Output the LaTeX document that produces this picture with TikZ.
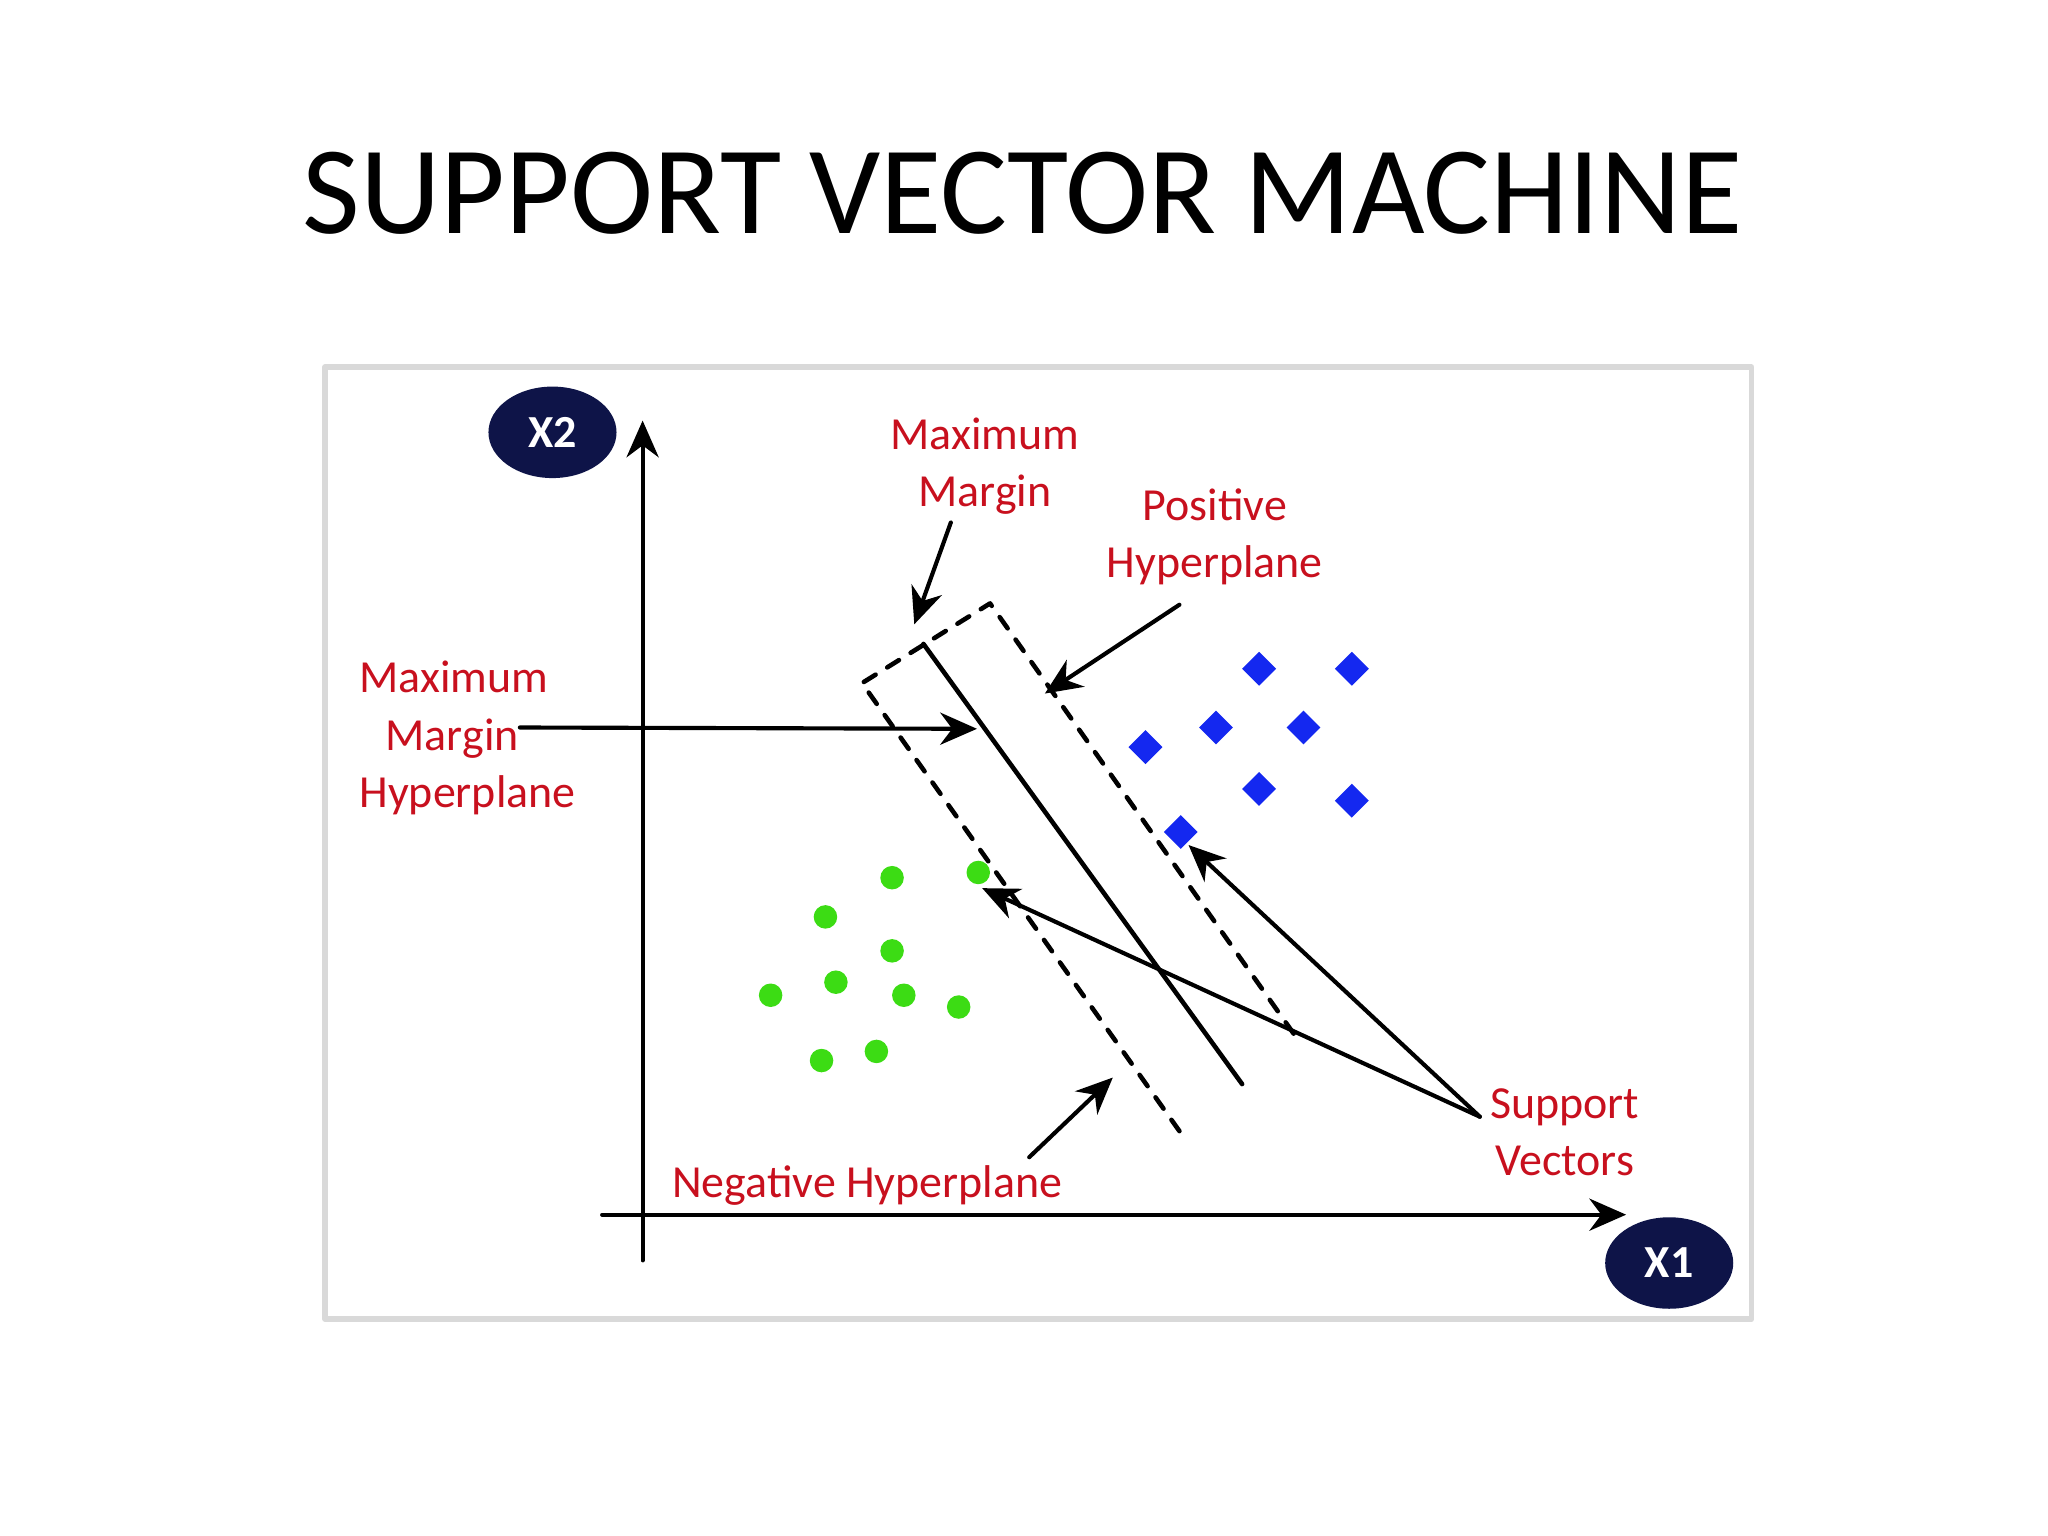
\documentclass[tikz,border=0pt]{standalone}
\usepackage{fontspec}
\setmainfont{Carlito}
\usetikzlibrary{arrows.meta, shapes.geometric}
\definecolor{svmred}{RGB}{200,16,30}
\definecolor{svmnavy}{RGB}{14,20,72}
\definecolor{svmblue}{RGB}{20,40,240}
\definecolor{svmgreen}{RGB}{60,220,20}
\tikzset{
  lbl/.style={text=svmred, font=\fontsize{10}{12.5}\selectfont, align=center},
  axislbl/.style={ellipse, fill=svmnavy, text=white, minimum width=0.98cm, minimum height=0.7cm, inner sep=0pt, font=\bfseries\fontsize{10}{12}\selectfont},
  pointer/.style={-{Stealth[length=8pt,width=7pt]}, line width=0.9pt},
}
\begin{document}
\begin{tikzpicture}[x=0.01cm, y=-0.01cm, line cap=round, line join=round]
  \useasboundingbox (0,0) rectangle (1568,1176);

  \node (title) at (783,148) {\fontsize{27.3}{32}\selectfont SUPPORT VECTOR MACHINE};
  \draw[black!15, line width=1.2pt] (249,281) rectangle (1341,1010);

  % axes
  \draw[pointer] (492,965) -- (492,322);
  \draw[pointer] (461,930) -- (1245,930);
  \node[axislbl] (xtwo) at (423,331) {X2};
  \node[axislbl] (xone) at (1278,967) {X1};

  % hyperplanes
  \draw[line width=1pt] (707,493) -- (951,830);
  \draw[dashed, line width=1pt] (903,866) -- (660,523) -- (758,462) -- (993,795);

  % data points
  \foreach \x/\y in {964/512,1035/512,877/572,931/557,998/557,964/604,1035/613,904/637}{
    \fill[svmblue] (\x,\y) +(0,-13) -- +(13,0) -- +(0,13) -- +(-13,0) -- cycle;
  }
  \foreach \x/\y in {683/672,749/668,632/702,683/728,640/752,590/762,692/762,734/771,629/812,671/805}{
    \fill[svmgreen] (\x,\y) circle (9);
  }

  % labels
  \node[lbl] (maxmargin) at (754,357) {Maximum\\Margin};
  \node[lbl] (poshyp) at (930,411) {Positive\\Hyperplane};
  \node[lbl, align=left] (mmhyp) at (358,565) {Maximum\\\hspace*{0.2cm}Margin\\Hyperplane};
  \node[lbl] (supvec) at (1198,867) {Support\\Vectors};
  \node[lbl] (neghyp) at (664,908) {Negative Hyperplane};

  % pointers
  \coordinate (svtip) at (1133,855);
  \draw[pointer] (728,400) -- (700,478);
  \draw[pointer] (903,463) -- (800,531);
  \draw[pointer] (398,557) -- (748,558);
  \draw[pointer] (svtip) -- (910,647);
  \draw[pointer] (svtip) -- (752,680);
  \draw[pointer] (788,886) -- (852,825);
\end{tikzpicture}
\end{document}
